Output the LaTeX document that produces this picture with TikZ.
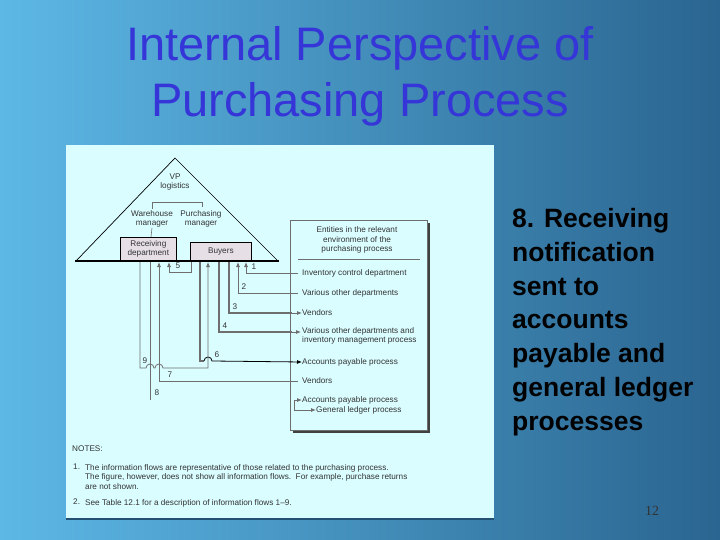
\documentclass[tikz,border=0pt]{standalone}
\usepackage{fontspec}
\setmainfont{Liberation Sans}
\newfontfamily\serifnum{Liberation Serif}
\usetikzlibrary{arrows.meta}
\definecolor{bgA}{HTML}{5DB8E6}
\definecolor{bgB}{HTML}{2A6590}
\definecolor{panel}{HTML}{DAFDFF}
\definecolor{titleblue}{HTML}{3535D8}
\definecolor{ln}{HTML}{6E6E6E}
\definecolor{tx}{HTML}{333333}
\definecolor{boxfill}{HTML}{E6E0E6}
\tikzset{
  dtxt/.style={text=tx,font=\fontsize{8.2}{9.6}\selectfont,inner sep=0pt,align=center},
  ltxt/.style={text=tx,font=\fontsize{8.2}{9.6}\selectfont,inner sep=0pt,anchor=west,align=left},
  num/.style={text=tx,font=\fontsize{8.2}{9.6}\selectfont,inner sep=0pt},
  flow/.style={draw=ln,line width=0.8pt},
  thick flow/.style={draw=ln,line width=1.8pt},
  arr/.style={-{Latex[length=5pt,width=4pt]}},
  orgbox/.style={draw=black,line width=0.7pt,fill=boxfill},
}
\begin{document}
\begin{tikzpicture}[x=1pt,y=-1pt]
\useasboundingbox (0,0) rectangle (720,540);
\shade[shading angle=-35, left color=bgA, right color=bgB] (0,0) rectangle (720,540);
% title
\node[text=titleblue,font=\fontsize{47}{56}\selectfont,align=center] (title) at (360,76) {Internal Perspective of\\Purchasing Process};
% panel
\fill[panel] (66,145) rectangle (494,519);
\draw[bgB!80!black,line width=1.2pt] (66,519) -- (494,519);
% right text
\node[anchor=north west,font=\bfseries\fontsize{26.5}{33.8}\selectfont,align=left,inner sep=0pt] (desc) at (512,208)
 {8. Receiving\\notification\\sent to\\accounts\\payable and\\general ledger\\processes};
\node[font=\serifnum\fontsize{14}{16}\selectfont,text=black!80] (pg) at (652,511) {12};
% triangle
\draw[black,line width=0.7pt] (76,261) -- (175,158) -- (278,261);
\node[dtxt] (vp) at (175,182) {VP\\logistics};
\draw[ln,line width=0.6pt] (152,209) -- (152,202) -- (202,202) -- (202,207);
\node[dtxt] (wm) at (152,219) {Warehouse\\manager};
\node[dtxt] (pm) at (201,219) {Purchasing\\manager};
\draw[ln,line width=0.6pt] (wm.south) -- (151,237);
\node[orgbox,minimum width=56pt,minimum height=23pt,anchor=north west] (recv) at (120,237) {};
\node[dtxt] at (recv.center) {Receiving\\department};
\node[orgbox,minimum width=61pt,minimum height=18pt,anchor=north west] (buy) at (190,242) {};
\node[dtxt] at (buy.center) {Buyers};
% entities box
\fill[black!75] (293,223) rectangle (430,433);
\node[draw=ln,fill=panel,line width=0.6pt,minimum width=137pt,minimum height=210pt,anchor=north west] (ent) at (290,220) {};
\node[dtxt] (head) at (357,240) {Entities in the relevant\\environment of the\\purchasing process};
\draw[ln,line width=0.6pt] (298,259) -- (420,259);
\node[ltxt] (e1) at (302,273) {Inventory control department};
\node[ltxt] (e2) at (302,293) {Various other departments};
\node[ltxt] (e3) at (302,313) {Vendors};
\node[ltxt] (e4) at (302,336) {Various other departments and\\inventory management process};
\node[ltxt] (e6) at (302,362) {Accounts payable process};
\node[ltxt] (e7) at (302,381) {Vendors};
\node[ltxt] (e8) at (302,400) {Accounts payable process};
\node[ltxt] (e9) at (316,410) {General ledger process};
% flows
\draw[flow,arr] (298,273) -- (246,273) -- (246,262);
\node[num] at (254,267) {1};
\draw[flow,arr] (298,293) -- (238,293) -- (238,262);
\node[num] at (244,287) {2};
\draw[thick flow] (229,261) -- (229,313) -- (292,313);
\draw[flow,arr] (290,313) -- (e3.west);
\node[num] at (235,307) {3};
\draw[thick flow] (219,261) -- (219,332) -- (292,332);
\draw[flow,arr] (290,332) -- (301,332);
\node[num] at (225,326) {4};
\draw[flow,arr] (191,261) -- (191,272) -- (169,272) -- (169,262);
\node[num] at (178,266) {5};
\draw[thick flow] (200,261) -- (200,361) -- (204,361);
\draw[black,line width=0.8pt,arr] (204,361) arc[start angle=180,end angle=360,radius=4] -- (e6.west);
\node[num] at (217,355) {6};
\draw[flow,arr] (298,381) -- (159,381) -- (159,262);
\node[num] at (170,375) {7};
\draw[flow] (150,261) -- (150,400);
\node[num] at (157,393) {8};
\draw[flow,arr] (140,261) -- (140,368) -- (146,368) arc[start angle=180,end angle=360,radius=4] -- (155,368) arc[start angle=180,end angle=360,radius=4] -- (208,368) -- (208,262);
\node[num] at (145,361) {9};
\draw[flow,arr] (294,400) -- (e8.west);
\draw[flow,arr] (294,400) -- (294,410) -- (e9.west);
\draw[black,line width=2pt] (75,261) -- (279,261);
% notes
\node[ltxt,anchor=west] (notes) at (72,449) {NOTES:};
\node[ltxt,anchor=north west] (n1) at (73,464) {1.};
\node[ltxt,anchor=north west,align=left] (n1t) at (85,464) {The information flows are representative of those related to the purchasing process.\\The figure, however, does not show all information flows.\ \ For example, purchase returns\\are not shown.};
\node[ltxt,anchor=north west] (n2) at (73,499) {2.};
\node[ltxt,anchor=north west] (n2t) at (85,499) {See Table 12.1 for a description of information flows 1--9.};
\end{tikzpicture}
\end{document}
